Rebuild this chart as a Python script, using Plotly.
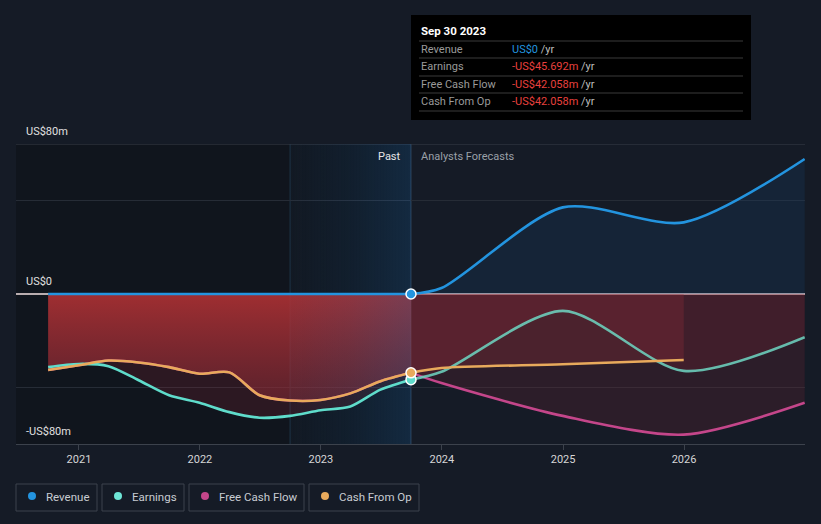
import plotly.graph_objects as go
import pandas as pd

# ---------------- data ----------------
past_dates = ["2020-09-30", "2020-12-31", "2021-03-31", "2021-06-30", "2021-09-30",
              "2021-12-31", "2022-03-31", "2022-06-30", "2022-09-30", "2022-12-31",
              "2023-03-31", "2023-06-30", "2023-09-30"]
revenue_past = [0, 0, 0, 0, 0, 0, 0, 0, 0, 0, 0, 0, 0]
earnings_past = [-39, -37.3, -38.5, -46, -54, -58, -63, -66, -65, -62, -60, -51, -45.692]
cfo_past = [-40.5, -38, -35.5, -36.5, -39, -42.5, -41.8, -54, -56.8, -56.5, -53, -46.5, -42.058]
fcf_past = [-40.5, -38, -35.5, -36.5, -39, -42.5, -41.8, -54, -56.8, -56.5, -53, -46.5, -42.058]

fc_dates = ["2023-09-30", "2023-12-31", "2024-12-31", "2025-12-31", "2026-12-31"]
revenue_fc = [0, 3.2, 46.2, 38.2, 72]
earnings_fc = [-45.692, -41.5, -9, -41, -23]
fcf_fc = [-42.058, -47.5, -65, -75, -58]
cfo_fc_dates = ["2023-09-30", "2023-12-31", "2024-12-31", "2025-12-31"]
cfo_fc = [-42.058, -39.5, -37.5, -35.2]

year_ticks = ["2021-01-01", "2022-01-01", "2023-01-01", "2024-01-01", "2025-01-01", "2026-01-01"]
year_labels = ["2021", "2022", "2023", "2024", "2025", "2026"]

tooltip_title = "Sep 30 2023"
tooltip_labels = ["Revenue", "Earnings", "Free Cash Flow", "Cash From Op"]
tooltip_values = ["US$0", "-US$45.692m", "-US$42.058m", "-US$42.058m"]

legend_names = ["Revenue", "Earnings", "Free Cash Flow", "Cash From Op"]

# ---------------- style ----------------
C_REV = "#2394df"
C_EARN = "#5fdccb"
C_FCF = "#c4468a"
C_CFO = "#e8aa5c"
BG = "#151b26"
FONT = "Roboto"

W, H = 821, 524
L, R, T, B = 16, 16, 144, 80
Y_RANGE = [-80, 80]
X_RANGE = ["2020-06-25", "2027-01-01"]
present = past_dates[-1]
hl_start = past_dates[-5]  # one year before present


def px(x):
    return (x - L) / (W - L - R)


def py(y):
    return (H - B - y) / (H - T - B)


fig = go.Figure()

spl = dict(shape="spline", smoothing=0.8)

# past fills
fig.add_trace(go.Scatter(x=past_dates, y=earnings_past, mode="lines", line=dict(width=0, **spl),
                         fill="tozeroy", fillcolor="rgba(160,40,55,0.2)", hoverinfo="skip", showlegend=False))
fig.add_trace(go.Scatter(x=past_dates, y=cfo_past, mode="lines", line=dict(width=0, **spl),
                         fill="tozeroy",
                         fillgradient=dict(type="vertical", start=0, stop=-57,
                                           colorscale=[[0, "rgba(180,50,52,0.85)"], [1, "rgba(150,45,55,0.45)"]]),
                         hoverinfo="skip", showlegend=False))
# forecast fills
fig.add_trace(go.Scatter(x=fc_dates, y=revenue_fc, mode="lines", line=dict(width=0, **spl),
                         fill="tozeroy", fillcolor="rgba(25,70,120,0.22)", hoverinfo="skip", showlegend=False))
fig.add_trace(go.Scatter(x=fc_dates, y=earnings_fc, mode="lines", line=dict(width=0, **spl),
                         fill="tozeroy", fillcolor="rgba(150,40,55,0.2)", hoverinfo="skip", showlegend=False))
fig.add_trace(go.Scatter(x=fc_dates, y=fcf_fc, mode="lines", line=dict(width=0, **spl),
                         fill="tozeroy", fillcolor="rgba(150,40,55,0.18)", hoverinfo="skip", showlegend=False))
fig.add_trace(go.Scatter(x=cfo_fc_dates, y=cfo_fc, mode="lines", line=dict(width=0),
                         fill="tozeroy", fillcolor="rgba(150,45,55,0.3)", hoverinfo="skip", showlegend=False))

# highlight overlay band (last year before present), above fills, below lines
fig.add_trace(go.Scatter(x=[hl_start, present, present, hl_start, hl_start],
                         y=[Y_RANGE[0], Y_RANGE[0], Y_RANGE[1], Y_RANGE[1], Y_RANGE[0]],
                         mode="lines", line=dict(width=0), fill="toself",
                         fillgradient=dict(type="horizontal",
                                           colorscale=[[0, "rgba(40,100,160,0.04)"], [0.5, "rgba(40,100,160,0.14)"],
                                                       [1, "rgba(40,100,160,0.30)"]]),
                         hoverinfo="skip", showlegend=False))

# lines
lw = 2.6
fig.add_trace(go.Scatter(x=fc_dates, y=fcf_fc, mode="lines", line=dict(color=C_FCF, width=lw, **spl),
                         showlegend=False, hoverinfo="skip"))
fig.add_trace(go.Scatter(x=past_dates, y=fcf_past, mode="lines", line=dict(color=C_FCF, width=lw, **spl),
                         showlegend=False, hoverinfo="skip"))
fig.add_trace(go.Scatter(x=fc_dates, y=earnings_fc, mode="lines", line=dict(color="rgba(110,215,195,0.85)", width=lw, **spl),
                         showlegend=False, hoverinfo="skip"))
fig.add_trace(go.Scatter(x=past_dates, y=earnings_past, mode="lines", line=dict(color=C_EARN, width=lw, **spl),
                         showlegend=False, hoverinfo="skip"))
fig.add_trace(go.Scatter(x=cfo_fc_dates, y=cfo_fc, mode="lines", line=dict(color=C_CFO, width=lw, **spl),
                         showlegend=False, hoverinfo="skip"))
fig.add_trace(go.Scatter(x=past_dates, y=cfo_past, mode="lines", line=dict(color=C_CFO, width=lw, **spl),
                         showlegend=False, hoverinfo="skip"))
fig.add_trace(go.Scatter(x=fc_dates, y=revenue_fc, mode="lines", line=dict(color=C_REV, width=lw, **spl),
                         showlegend=False, hoverinfo="skip"))
fig.add_trace(go.Scatter(x=past_dates, y=revenue_past, mode="lines", line=dict(color=C_REV, width=lw),
                         showlegend=False, hoverinfo="skip"))

# present markers
for vals, col in [(earnings_past, C_EARN), (cfo_past, C_CFO), (revenue_past, C_REV)]:
    fig.add_trace(go.Scatter(x=[present], y=[vals[-1]], mode="markers",
                             marker=dict(color=col, size=10, line=dict(color="white", width=1.5)),
                             showlegend=False, hoverinfo="skip"))

shapes = []
# dark past region
shapes.append(dict(type="rect", xref="x", yref="paper", x0=X_RANGE[0], x1=hl_start, y0=0, y1=1,
                   fillcolor="rgba(0,0,0,0.22)", line=dict(width=0), layer="below"))
# highlight background gradient
n = 40
hl = pd.date_range(hl_start, present, periods=n + 1)
c0 = (17, 22, 30)
c1 = (11, 17, 24)
for i in range(n):
    t = i / (n - 1)
    col = tuple(int(round(c0[k] + (c1[k] - c0[k]) * t)) for k in range(3))
    x1 = hl[i + 1] + pd.Timedelta(days=3) if i < n - 1 else hl[i + 1]
    shapes.append(dict(type="rect", xref="x", yref="paper", x0=hl[i], x1=x1, y0=0, y1=1,
                       fillcolor="rgb(%d,%d,%d)" % col, line=dict(width=0), layer="below"))
shapes.append(dict(type="line", xref="x", yref="paper", x0=hl_start, x1=hl_start, y0=0, y1=1,
                   line=dict(color="#1e3346", width=1), layer="below"))
shapes.append(dict(type="line", xref="x", yref="paper", x0=present, x1=present, y0=0, y1=1,
                   line=dict(color="#2c4258", width=1), layer="below"))
# top line and zero line
shapes.append(dict(type="line", xref="paper", yref="y", x0=0, x1=1, y0=Y_RANGE[1], y1=Y_RANGE[1],
                   line=dict(color="#383e48", width=1), layer="below"))
shapes.append(dict(type="line", xref="paper", yref="y", x0=0, x1=1, y0=0, y1=0,
                   line=dict(color="rgba(255,235,235,0.95)", width=1.5), layer="below"))

# tooltip
shapes.append(dict(type="rect", xref="paper", yref="paper", x0=px(411), x1=px(751), y0=py(120), y1=py(15),
                   fillcolor="#000000", line=dict(width=0), layer="above"))
for yy in [41, 58, 76, 93, 111]:
    shapes.append(dict(type="line", xref="paper", yref="paper", x0=px(419), x1=px(743), y0=py(yy), y1=py(yy),
                       line=dict(color="#3a3a3a", width=1), layer="above"))

annotations = []
annotations.append(dict(xref="paper", yref="paper", x=px(419), y=py(31), xanchor="left", yanchor="middle",
                        text="<b>" + tooltip_title + "</b>", showarrow=False,
                        font=dict(family=FONT, size=11.5, color="#ffffff")))
row_y = [49, 66, 84, 101]
val_colors = [C_REV, "#e8413e", "#e8413e", "#e8413e"]
for i in range(4):
    annotations.append(dict(xref="paper", yref="paper", x=px(419), y=py(row_y[i]), xanchor="left", yanchor="middle",
                            text=tooltip_labels[i], showarrow=False,
                            font=dict(family=FONT, size=11, color="#9a9a9a")))
    annotations.append(dict(xref="paper", yref="paper", x=px(510), y=py(row_y[i]), xanchor="left", yanchor="middle",
                            text='<span style="color:%s">%s</span> /yr' % (val_colors[i], tooltip_values[i]),
                            showarrow=False, font=dict(family=FONT, size=11, color="#bdbdbd")))

# y labels
for val, lab in [(80, "US$80m"), (0, "US$0"), (-80, "-US$80m")]:
    annotations.append(dict(xref="paper", yref="y", x=px(24), y=val, xanchor="left", yanchor="bottom", yshift=4,
                            text=lab, showarrow=False, font=dict(family=FONT, size=11, color="#e0e0e0")))

# Past / Analysts Forecasts
annotations.append(dict(xref="x", yref="paper", x=present, y=py(156), xanchor="right", yanchor="middle", xshift=-8,
                        text="Past", showarrow=False, font=dict(family=FONT, size=11, color="#e6e6e6")))
annotations.append(dict(xref="x", yref="paper", x=present, y=py(156), xanchor="left", yanchor="middle", xshift=8,
                        text="Analysts Forecasts", showarrow=False, font=dict(family=FONT, size=11, color="#9aa0a8")))

# legend boxes
boxes = [(16, 97), (102, 184), (189, 304), (309, 419)]
dots_x = [32, 118, 205, 325]
text_x = [44, 130, 217, 337]
leg_colors = [C_REV, "#6ee6d6", C_FCF, C_CFO]
for i in range(4):
    shapes.append(dict(type="rect", xref="paper", yref="paper", x0=px(boxes[i][0]), x1=px(boxes[i][1]),
                       y0=py(511), y1=py(484), line=dict(color="#3c424c", width=1), fillcolor="rgba(0,0,0,0)"))
    shapes.append(dict(type="circle", xref="paper", yref="paper", x0=px(dots_x[i] - 4), x1=px(dots_x[i] + 4),
                       y0=py(500), y1=py(492), line=dict(width=0), fillcolor=leg_colors[i]))
    annotations.append(dict(xref="paper", yref="paper", x=px(text_x[i]), y=py(497), xanchor="left", yanchor="middle",
                            text=legend_names[i], showarrow=False, font=dict(family=FONT, size=11.5, color="#c8ccd2")))

fig.update_layout(
    width=W, height=H,
    margin=dict(l=L, r=R, t=T, b=B),
    paper_bgcolor=BG, plot_bgcolor=BG,
    showlegend=False,
    shapes=shapes, annotations=annotations,
    xaxis=dict(type="date", range=X_RANGE, tickvals=year_ticks, ticktext=year_labels,
               showgrid=False, zeroline=False, showline=True, linecolor="#3c424c", linewidth=1,
               ticks="outside", ticklen=5, tickcolor="#3c424c",
               tickfont=dict(family=FONT, size=11, color="#d6d6d6")),
    yaxis=dict(range=Y_RANGE, tickvals=[-50, 50], showticklabels=False, gridcolor="#262c36",
               zeroline=False, showline=False),
    font=dict(family=FONT),
)

fig.write_html("out.html", config={"displayModeBar": False},
               post_script="document.body.style.margin='0';document.body.style.overflow='hidden';")
